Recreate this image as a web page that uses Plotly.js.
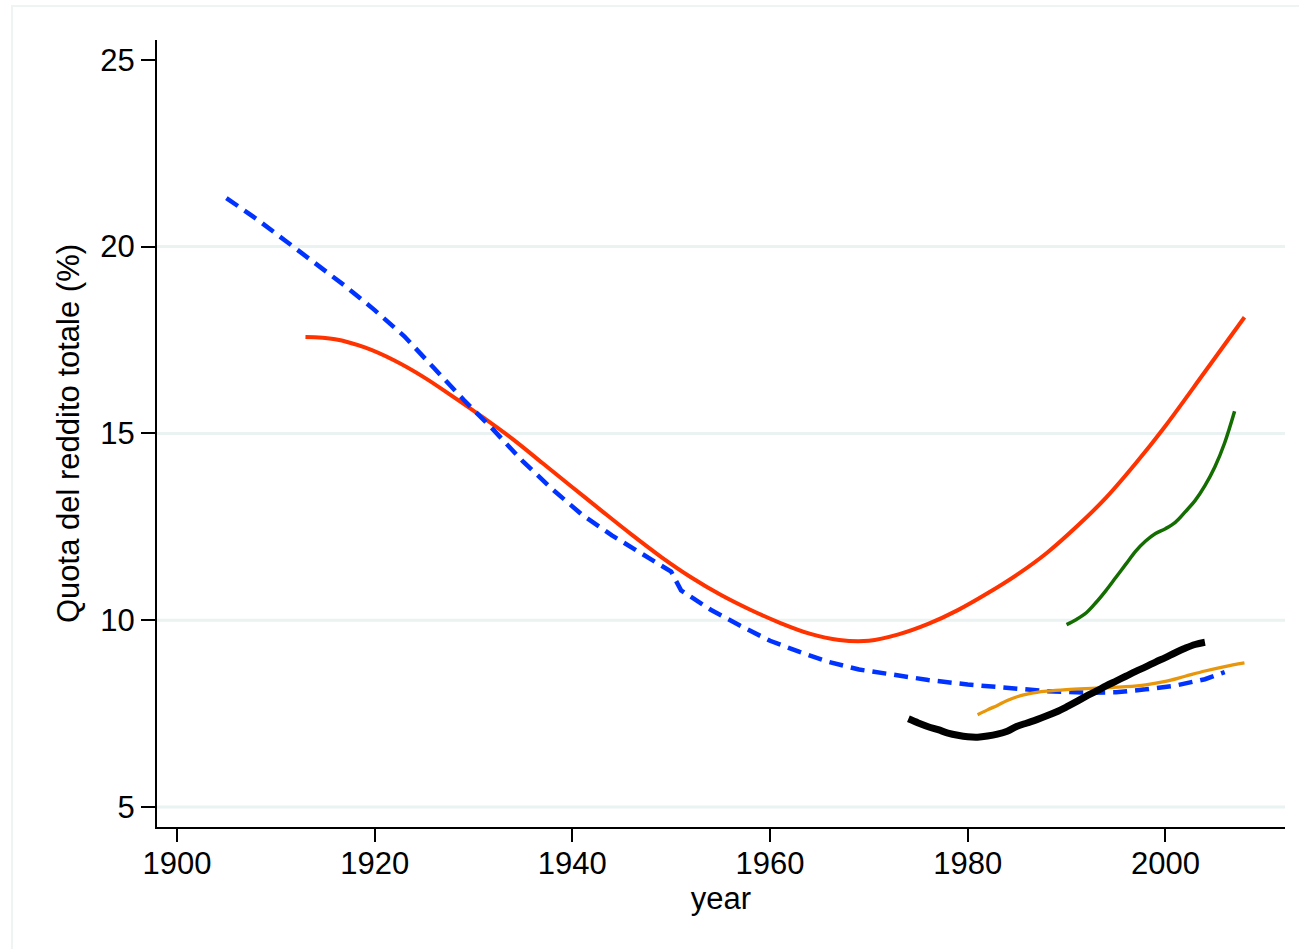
<!DOCTYPE html>
<html>
<head>
<meta charset="utf-8">
<script src="https://cdn.plot.ly/plotly-3.0.1.min.js"></script>
<style>html,body{margin:0;padding:0;background:#fff;}#chart{width:1299px;height:949px;}</style>
</head>
<body>
<div id="chart"></div>
<script>
// Data
const blueYears = [1905,1908,1911,1914,1917,1920,1923,1926,1929,1932,1935,1938,1941,1944,1947,1950,1951,1954,1957,1960,1963,1966,1969,1972,1976,1980,1984,1988,1992,1995,1998,2001,2004,2006];
const blueVals  = [21.3,20.75,20.15,19.55,18.95,18.3,17.6,16.75,15.9,15.1,14.25,13.5,12.82,12.27,11.8,11.3,10.8,10.28,9.85,9.45,9.15,8.88,8.68,8.55,8.4,8.28,8.18,8.1,8.06,8.07,8.15,8.25,8.42,8.61];

const redYears = [1913,1916,1919,1922,1925,1928,1931,1934,1937,1940,1943,1946,1949,1952,1955,1958,1961,1964,1967,1970,1973,1976,1979,1982,1985,1988,1991,1994,1997,2000,2004,2008];
const redVals  = [17.58,17.52,17.3,16.95,16.5,15.97,15.42,14.84,14.2,13.56,12.92,12.29,11.69,11.15,10.68,10.28,9.93,9.64,9.47,9.45,9.62,9.9,10.27,10.72,11.22,11.8,12.5,13.28,14.2,15.2,16.65,18.11];

const greenYears = [1990,1991,1992,1993,1994,1995,1996,1997,1998,1999,2000,2001,2002,2003,2004,2005,2006,2007];
const greenVals  = [9.88,10.02,10.2,10.48,10.8,11.15,11.5,11.85,12.12,12.32,12.45,12.62,12.9,13.2,13.6,14.1,14.75,15.59];

const blackYears = [1974,1975,1976,1977,1978,1979,1980,1981,1982,1983,1984,1985,1986,1987,1988,1989,1990,1991,1992,1993,1994,1995,1996,1997,1998,1999,2000,2001,2002,2003,2004];
const blackVals  = [7.36,7.25,7.15,7.07,6.98,6.92,6.88,6.87,6.9,6.95,7.03,7.16,7.25,7.34,7.44,7.55,7.68,7.82,7.97,8.1,8.24,8.37,8.5,8.63,8.75,8.88,9.0,9.13,9.25,9.35,9.41];

const orangeYears = [1981,1982,1983,1984,1985,1986,1987,1988,1990,1993,1996,1998,2000,2002,2004,2006,2008];
const orangeVals  = [7.47,7.6,7.72,7.85,7.95,8.02,8.07,8.1,8.14,8.18,8.22,8.27,8.36,8.5,8.64,8.76,8.86];

const xTicks = [1900,1920,1940,1960,1980,2000];
const yTicks = [5,10,15,20,25];
const gridVals = [5,10,15,20];

const FONT = "Liberation Sans, Arial, Helvetica, sans-serif";
const FS = 31;

const traces = [
  {x: redYears, y: redVals, mode:'lines', line:{color:'#ff3300', width:4, shape:'spline', smoothing:1}, hoverinfo:'x+y'},
  {x: blueYears, y: blueVals, mode:'lines', line:{color:'#0033ff', width:4.5, dash:'14px,8px'}, hoverinfo:'x+y'},
  {x: greenYears, y: greenVals, mode:'lines', line:{color:'#136d00', width:3.5, shape:'spline', smoothing:1}, hoverinfo:'x+y'},
  {x: orangeYears, y: orangeVals, mode:'lines', line:{color:'#e8960a', width:3.3, shape:'spline', smoothing:1}, hoverinfo:'x+y'},
  {x: blackYears, y: blackVals, mode:'lines', line:{color:'#000000', width:7, shape:'spline', smoothing:1}, hoverinfo:'x+y'}
];

const shapes = gridVals.map(v => ({
  type:'line', xref:'paper', yref:'y', x0:0, x1:1, y0:v, y1:v,
  line:{color:'#eaf2f2', width:3}, layer:'below'
}));
// faint outer graph-region frame
shapes.push({type:'rect', xref:'paper', yref:'paper',
  x0:(12-157)/1128, x1:(1310-157)/1128, y0:(827-960)/787, y1:(827-6)/787,
  line:{color:'#eef4f4', width:2}, fillcolor:'rgba(0,0,0,0)', layer:'below'});

const layout = {
  width:1299, height:949,
  margin:{l:157, r:14, t:40, b:122},
  paper_bgcolor:'#ffffff', plot_bgcolor:'#ffffff',
  showlegend:false,
  font:{family:FONT, size:FS, color:'#000'},
  xaxis:{
    range:[1897.98, 2012.1],
    tickvals: xTicks, ticktext: xTicks.map(String),
    showgrid:false, zeroline:false,
    showline:true, linecolor:'#000', linewidth:2,
    ticks:'outside', ticklen:13, tickwidth:2, tickcolor:'#000',
    ticklabelstandoff:-5,
    tickfont:{family:FONT, size:FS, color:'#000'},
    title:{text:'year', font:{family:FONT, size:FS, color:'#000'}, standoff:2},
    automargin:false
  },
  yaxis:{
    range:[4.465, 25.53],
    tickvals: yTicks, ticktext: yTicks.map(String),
    showgrid:false, zeroline:false,
    showline:true, linecolor:'#000', linewidth:2,
    ticks:'outside', ticklen:14, tickwidth:2, tickcolor:'#000',
    tickfont:{family:FONT, size:FS, color:'#000'},
    title:{text:'Quota del reddito totale (%)', font:{family:FONT, size:FS, color:'#000'}, standoff:11},
    automargin:false
  },
  shapes: shapes
};

Plotly.newPlot('chart', traces, layout, {displayModeBar:false, staticPlot:true});
</script>
</body>
</html>
